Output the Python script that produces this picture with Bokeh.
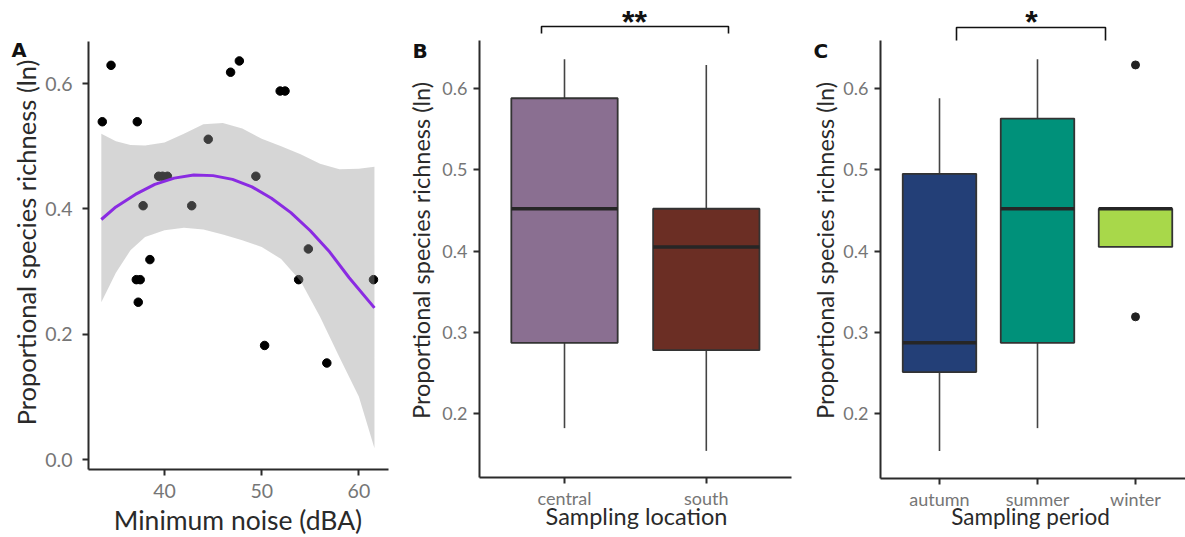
import math
from bokeh.plotting import figure
from bokeh.layouts import row
from bokeh.models import Range1d, FixedTicker, Label, PrintfTickFormatter, LinearAxis
from bokeh.embed import file_html
from bokeh.resources import INLINE

# ---------------- data ----------------
# Panel A: minimum noise vs proportional species richness
noise = [33.6, 34.5, 37.2, 37.8, 38.5, 37.1, 37.5, 37.3, 39.4, 39.8, 40.3, 42.8,
         44.5, 46.8, 47.7, 49.4, 50.3, 51.9, 52.4, 53.8, 54.8, 56.7, 61.5]
richness = [0.539, 0.629, 0.539, 0.405, 0.319, 0.287, 0.287, 0.251, 0.452, 0.452, 0.452, 0.405,
            0.511, 0.618, 0.636, 0.452, 0.182, 0.588, 0.588, 0.287, 0.336, 0.154, 0.287]
fit_x = [33.5, 35, 37, 39, 41, 43, 45, 47, 49, 51, 53, 55, 57, 59, 61.6]
fit_y = [0.383, 0.403, 0.423, 0.439, 0.449, 0.454, 0.453, 0.447, 0.435, 0.417, 0.394,
         0.365, 0.331, 0.290, 0.242]
band_x = [33.5, 35, 36.5, 38, 40, 42, 44, 46, 48, 50, 52, 54, 56, 58, 60, 61.6]
band_lo = [0.251, 0.298, 0.334, 0.355, 0.366, 0.370, 0.367, 0.359, 0.350, 0.339, 0.320,
           0.285, 0.228, 0.163, 0.100, 0.018]
band_hi = [0.520, 0.508, 0.502, 0.501, 0.506, 0.520, 0.535, 0.537, 0.528, 0.512, 0.500,
           0.487, 0.472, 0.463, 0.464, 0.467]

# Panel B: sampling location
locations = ["central", "south"]
loc_lo = [0.182, 0.154]
loc_q1 = [0.287, 0.278]
loc_med = [0.452, 0.405]
loc_q3 = [0.588, 0.452]
loc_hi = [0.636, 0.629]
loc_colors = ["#8a6f91", "#6b2e24"]

# Panel C: sampling period
periods = ["autumn", "summer", "winter"]
per_lo = [0.154, 0.182, 0.405]
per_q1 = [0.251, 0.287, 0.405]
per_med = [0.287, 0.452, 0.452]
per_q3 = [0.495, 0.563, 0.452]
per_hi = [0.588, 0.636, 0.452]
per_out_cat = ["winter", "winter"]
per_out_y = [0.629, 0.319]
per_colors = ["#233f77", "#00917a", "#a8d84a"]

y_title = "Proportional species richness (ln)"

# ---------------- styling / layout geometry ----------------
FONT = "Lato"
LETTER_FONT = "DejaVu Sans"
TICK_COLOR = "#767676"
TITLE_COLOR = "#2a2a2a"
AXIS_COLOR = "#2b2b2b"
HEIGHT = 537


def make_panel(left, width, xppu, xv, xpx, yppu, yv, ypx):
    """Figure whose frame covers the whole canvas; returns figure and pixel->data maps."""
    x0 = xv - (xpx - left) / xppu
    x1 = x0 + width / xppu
    y1 = yv + ypx / yppu
    y0 = y1 - HEIGHT / yppu
    p = figure(width=width, height=HEIGHT, min_border=0, output_backend="svg",
               toolbar_location=None, x_range=Range1d(x0, x1), y_range=Range1d(y0, y1),
               x_axis_location=None, y_axis_location=None)
    p.outline_line_color = None
    p.xgrid.grid_line_color = None
    p.ygrid.grid_line_color = None
    p.background_fill_color = "white"
    p.border_fill_color = "white"

    def fx(px):
        return x0 + (px - left) / xppu

    def fy(py):
        return y1 - py / yppu
    return p, fx, fy


def add_axes(p, fx, fy, ax_x, ax_y, top_y, right_x, tick_size, xlabel_size, xstandoff, ystandoff):
    xa = LinearAxis(fixed_location=fy(ax_y), bounds=(fx(ax_x), fx(right_x)))
    ya = LinearAxis(fixed_location=fx(ax_x), bounds=(fy(ax_y), fy(top_y)))
    for ax in (xa, ya):
        ax.axis_line_color = AXIS_COLOR
        ax.axis_line_width = 2
        ax.major_tick_line_color = AXIS_COLOR
        ax.major_tick_line_width = 2
        ax.major_tick_out = 6
        ax.major_tick_in = 0
        ax.minor_tick_line_color = None
        ax.major_label_text_font = FONT
        ax.major_label_text_color = TICK_COLOR
    ya.major_label_text_font_size = f"{tick_size}px"
    xa.major_label_text_font_size = f"{xlabel_size}px"
    xa.major_label_standoff = xstandoff
    ya.major_label_standoff = ystandoff
    ya.formatter = PrintfTickFormatter(format="%.1f")
    p.add_layout(xa, "below")
    p.add_layout(ya, "left")
    return xa, ya


def text(p, x, y, s, size, color=TITLE_COLOR, font=FONT, bold=False, align="center", angle=0.0):
    p.add_layout(Label(x=x, y=y, text=s, text_font=font,
                       text_font_style="bold" if bold else "normal",
                       text_font_size=f"{size}px", text_color=color, text_align=align,
                       text_baseline="alphabetic", angle=angle))


# ---------------- Panel A ----------------
pA, fxA, fyA = make_panel(0, 400, 9.72, 40, 164, 626.7, 0.6, 83)
xaA, yaA = add_axes(pA, fxA, fyA, 88, 469, 41, 388, 19.5, 19.5, 8, 10)
yaA.ticker = FixedTicker(ticks=[0.0, 0.2, 0.4, 0.6])
xaA.ticker = FixedTicker(ticks=[40, 50, 60])

pA.scatter(noise, richness, size=8.5, color="black")
pA.varea(x=band_x, y1=band_lo, y2=band_hi, fill_color="#999999", fill_alpha=0.4)
pA.line(fit_x, fit_y, line_color="#8a2be2", line_width=3)
text(pA, fxA(237.5), fyA(519), "Minimum noise (dBA)", 26.5)
text(pA, fxA(25), fyA(242), y_title, 25.5, angle=math.pi / 2)
text(pA, fxA(11), fyA(50), "A", 19.5, color="#111111", font=LETTER_FONT, bold=True,
     align="left")


# ---------------- box panels ----------------
def box_panel(p, fx, fy, cats, lo, q1, med, q3, hi, colors):
    pos = [i + 1 for i in range(len(cats))]
    half = 0.375
    p.segment(pos, q3, pos, hi, line_color="#444444", line_width=1.6)
    p.segment(pos, lo, pos, q1, line_color="#444444", line_width=1.6)
    p.vbar(x=pos, width=2 * half, bottom=q1, top=q3, fill_color=colors,
           line_color="#333333", line_width=1.8)
    p.segment([x - half for x in pos], med, [x + half for x in pos], med,
              line_color="#262626", line_width=3.4)
    return pos


# Panel B
pB, fxB, fyB = make_panel(400, 400, 141.8, 1, 564, 812.5, 0.6, 88)
xaB, yaB = add_axes(pB, fxB, fyB, 479, 477, 40, 791, 18, 18, 3, 6)
yaB.ticker = FixedTicker(ticks=[0.2, 0.3, 0.4, 0.5, 0.6])
posB = box_panel(pB, fxB, fyB, locations, loc_lo, loc_q1, loc_med, loc_q3, loc_hi, loc_colors)
xaB.ticker = FixedTicker(ticks=posB)
xaB.major_label_overrides = {k: c for k, c in zip(posB, locations)}
text(pB, fxB(636), fyB(515.5), "Sampling location", 23.5)
text(pB, fxB(420), fyB(250), y_title, 23.5, angle=math.pi / 2)
text(pB, fxB(412), fyB(50), "B", 20, color="#111111", font=LETTER_FONT, bold=True,
     align="left")
pB.line([fxB(541), fxB(541), fxB(728), fxB(728)], [fyB(33), fyB(26), fyB(26), fyB(33)],
        line_color="#111111", line_width=1.6)
text(pB, fxB(634), fyB(21), "**", 32, color="#111111", font="Liberation Sans", bold=True)

# Panel C
pC, fxC, fyC = make_panel(800, 385, 98, 1, 939, 812.5, 0.6, 88)
xaC, yaC = add_axes(pC, fxC, fyC, 880, 478, 40, 1185, 18, 18, 3, 6)
yaC.ticker = FixedTicker(ticks=[0.2, 0.3, 0.4, 0.5, 0.6])
posC = box_panel(pC, fxC, fyC, periods, per_lo, per_q1, per_med, per_q3, per_hi, per_colors)
xaC.ticker = FixedTicker(ticks=posC)
xaC.major_label_overrides = {k: c for k, c in zip(posC, periods)}
out_pos = [periods.index(c) + 1 for c in per_out_cat]
pC.scatter(out_pos, per_out_y, size=8, color="#222222")
text(pC, fxC(1030), fyC(515.5), "Sampling period", 22.5)
text(pC, fxC(824), fyC(250), y_title, 23.5, angle=math.pi / 2)
text(pC, fxC(813), fyC(50), "C", 20, color="#111111", font=LETTER_FONT, bold=True,
     align="left")
pC.line([fxC(956), fxC(956), fxC(1105), fxC(1105)], [fyC(40), fyC(27), fyC(27), fyC(40)],
        line_color="#111111", line_width=1.6)
text(pC, fxC(1031), fyC(21), "*", 32, color="#111111", font="Liberation Sans", bold=True)

layout = row(pA, pB, pC, spacing=0)
open("out.html", "w").write(file_html(layout, INLINE))
